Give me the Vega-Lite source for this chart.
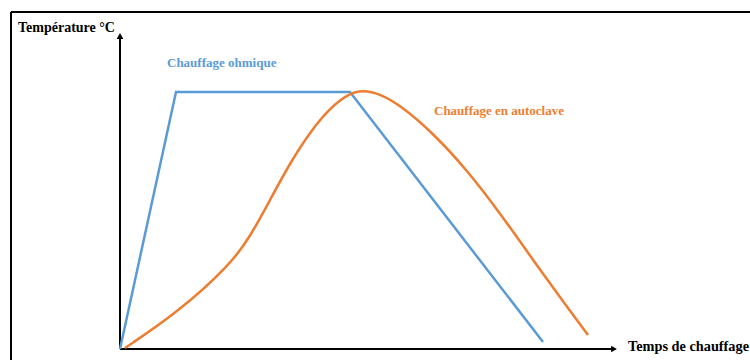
{
  "$schema": "https://vega.github.io/schema/vega-lite/v6.json",
  "width": 750,
  "height": 360,
  "autosize": {"type": "none"},
  "padding": 0,
  "background": "white",
  "config": {"view": {"stroke": null}},
  "datasets": {
    "ohmique": [
      {"serie": "Chauffage ohmique", "t": 0, "temp": 0},
      {"serie": "Chauffage ohmique", "t": 56, "temp": 257},
      {"serie": "Chauffage ohmique", "t": 230, "temp": 257},
      {"serie": "Chauffage ohmique", "t": 423, "temp": 7}
    ],
    "autoclave": [
      {"serie": "Chauffage en autoclave", "t": 5, "temp": 1},
      {"serie": "Chauffage en autoclave", "t": 57, "temp": 36},
      {"serie": "Chauffage en autoclave", "t": 110, "temp": 84},
      {"serie": "Chauffage en autoclave", "t": 130, "temp": 112},
      {"serie": "Chauffage en autoclave", "t": 150, "temp": 149},
      {"serie": "Chauffage en autoclave", "t": 170, "temp": 186},
      {"serie": "Chauffage en autoclave", "t": 190, "temp": 217},
      {"serie": "Chauffage en autoclave", "t": 210, "temp": 241},
      {"serie": "Chauffage en autoclave", "t": 228, "temp": 255},
      {"serie": "Chauffage en autoclave", "t": 243, "temp": 259},
      {"serie": "Chauffage en autoclave", "t": 260, "temp": 255},
      {"serie": "Chauffage en autoclave", "t": 280, "temp": 244},
      {"serie": "Chauffage en autoclave", "t": 313, "temp": 216},
      {"serie": "Chauffage en autoclave", "t": 347, "temp": 179},
      {"serie": "Chauffage en autoclave", "t": 380, "temp": 136},
      {"serie": "Chauffage en autoclave", "t": 413, "temp": 89},
      {"serie": "Chauffage en autoclave", "t": 447, "temp": 42},
      {"serie": "Chauffage en autoclave", "t": 468, "temp": 14}
    ],
    "traits": [
      {"nom": "cadre haut", "t": -109, "temp": 337, "t2": 660, "temp2": 337},
      {"nom": "cadre gauche", "t": -109, "temp": -30, "t2": -109, "temp2": 337},
      {"nom": "axe y", "t": 0, "temp": 0, "t2": 0, "temp2": 312},
      {"nom": "axe x", "t": 0, "temp": 0, "t2": 494, "temp2": 0}
    ],
    "fleches": [
      {"nom": "axe y", "t": 0, "temp": 313, "forme": "triangle-up"},
      {"nom": "axe x", "t": 494, "temp": 0, "forme": "triangle-right"}
    ],
    "legendes": [
      {"serie": "Chauffage ohmique", "t": 47, "temp": 286},
      {"serie": "Chauffage en autoclave", "t": 314, "temp": 238}
    ],
    "titreY": [
      {"texte": "Température °C", "t": -102, "temp": 321}
    ],
    "titreX": [
      {"texte": "Temps de chauffage", "t": 508, "temp": 2}
    ]
  },
  "encoding": {
    "x": {"field": "t", "type": "quantitative", "scale": {"domain": [-120, 630], "nice": false, "zero": false}, "axis": null},
    "y": {"field": "temp", "type": "quantitative", "scale": {"domain": [-11, 349], "nice": false, "zero": false}, "axis": null}
  },
  "layer": [
    {
      "data": {"name": "traits"},
      "mark": {"type": "rule", "color": "black", "strokeWidth": 2},
      "encoding": {
        "x2": {"field": "t2"},
        "y2": {"field": "temp2"}
      }
    },
    {
      "data": {"name": "fleches"},
      "mark": {"type": "point", "filled": true, "color": "black", "opacity": 1, "size": 45},
      "encoding": {
        "shape": {"field": "forme", "type": "nominal", "scale": null}
      }
    },
    {
      "data": {"name": "ohmique"},
      "mark": {"type": "line", "strokeWidth": 2.5, "interpolate": "linear", "strokeJoin": "miter"},
      "encoding": {
        "color": {"field": "serie", "type": "nominal", "scale": {"domain": ["Chauffage ohmique", "Chauffage en autoclave"], "range": ["#5B9BD5", "#ED7D31"]}, "legend": null}
      }
    },
    {
      "data": {"name": "autoclave"},
      "mark": {"type": "line", "strokeWidth": 2.5, "interpolate": "basis"},
      "encoding": {
        "color": {"field": "serie", "type": "nominal", "scale": {"domain": ["Chauffage ohmique", "Chauffage en autoclave"], "range": ["#5B9BD5", "#ED7D31"]}, "legend": null}
      }
    },
    {
      "data": {"name": "legendes"},
      "mark": {"type": "text", "align": "left", "baseline": "middle", "font": "Liberation Serif", "fontWeight": "bold", "fontSize": 13},
      "encoding": {
        "text": {"field": "serie"},
        "color": {"field": "serie", "type": "nominal", "scale": {"domain": ["Chauffage ohmique", "Chauffage en autoclave"], "range": ["#6A9FD8", "#F0803C"]}, "legend": null}
      }
    },
    {
      "data": {"name": "titreY"},
      "mark": {"type": "text", "align": "left", "baseline": "middle", "font": "Liberation Serif", "fontWeight": "bold", "fontSize": 14, "color": "black"},
      "encoding": {
        "text": {"field": "texte"}
      }
    },
    {
      "data": {"name": "titreX"},
      "mark": {"type": "text", "align": "left", "baseline": "middle", "font": "Liberation Serif", "fontWeight": "bold", "fontSize": 14.3, "color": "black"},
      "encoding": {
        "text": {"field": "texte"}
      }
    }
  ]
}
